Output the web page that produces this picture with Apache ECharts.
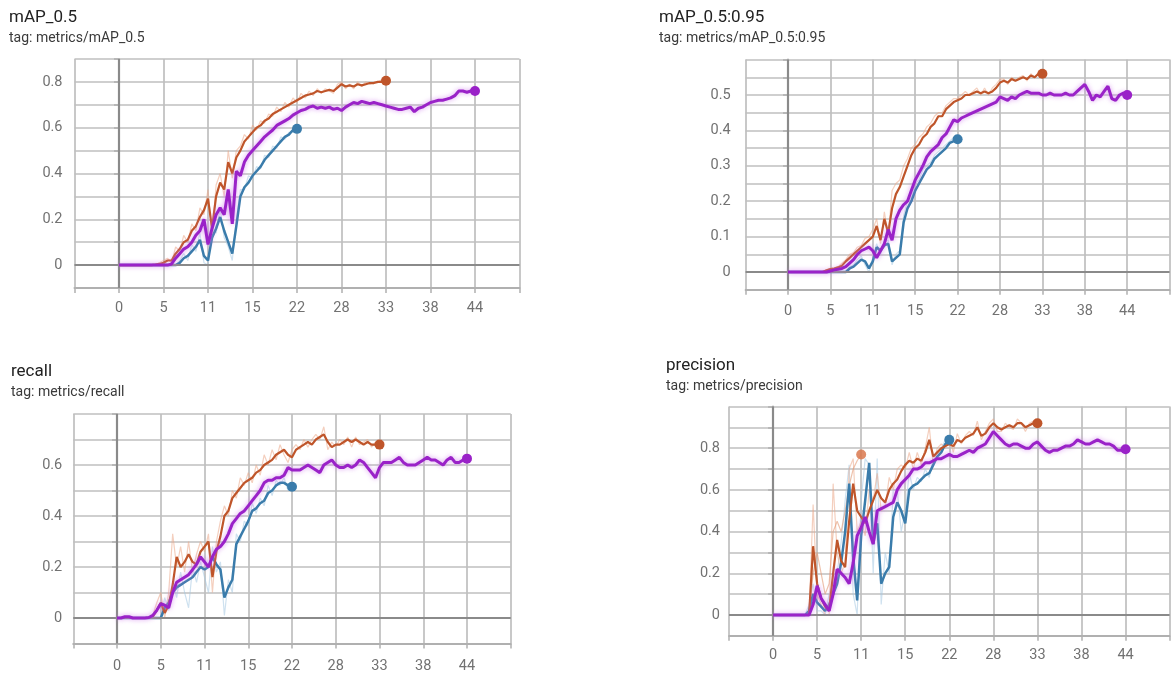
<!DOCTYPE html>
<html><head><meta charset="utf-8">
<script src="https://cdn.jsdelivr.net/npm/echarts@6/dist/echarts.min.js"></script>
<style>html,body{margin:0;padding:0;background:#fff}#c{width:1174px;height:677px}</style>
</head><body><div id="c"></div><script>
// ---------- tick labels ----------
const X_TICK_LABELS = ['0','5','11','15','22','28','33','38','44'];
const X_TICK_STEP = 5.5;      // spacing of labelled x ticks
const SAMPLE_STEP = 0.5;      // x spacing of logged samples

// ---------- panel titles ----------
const TITLES = ['mAP_0.5','mAP_0.5:0.95','recall','precision'];
const TAGS = ['tag: metrics/mAP_0.5','tag: metrics/mAP_0.5:0.95','tag: metrics/recall','tag: metrics/precision'];

// ---------- mAP_0.5 ----------
const map50_orange = [0,0,0,0,0,0,0,0,0,0.002,0.005,0.01,0.02,0.02,0.05,0.07,0.1,0.11,0.15,0.17,0.21,0.24,0.29,0.16,0.3,0.36,0.33,0.45,0.4,0.47,0.5,0.54,0.56,0.58,0.6,0.61,0.63,0.64,0.66,0.67,0.68,0.69,0.7,0.71,0.72,0.73,0.74,0.745,0.75,0.76,0.755,0.76,0.765,0.76,0.775,0.79,0.78,0.785,0.78,0.79,0.785,0.79,0.795,0.795,0.8,0.8,0.805];
const map50_purple = [0,0,0,0,0,0,0,0,0,0,0,0,0,0.005,0.03,0.05,0.07,0.08,0.1,0.13,0.15,0.2,0.09,0.16,0.22,0.25,0.22,0.33,0.18,0.41,0.39,0.45,0.48,0.5,0.52,0.54,0.56,0.575,0.59,0.61,0.62,0.63,0.64,0.655,0.665,0.675,0.68,0.69,0.695,0.685,0.69,0.685,0.69,0.68,0.685,0.675,0.69,0.7,0.71,0.705,0.715,0.71,0.705,0.71,0.705,0.7,0.695,0.69,0.685,0.68,0.68,0.685,0.69,0.67,0.685,0.69,0.7,0.71,0.715,0.72,0.72,0.725,0.73,0.74,0.76,0.76,0.755,0.76,0.76];
const map50_blue = [0,0,0,0,0,0,0,0,0,0,0,0,0,0,0,0.01,0.03,0.04,0.06,0.08,0.11,0.04,0.02,0.12,0.16,0.21,0.15,0.1,0.05,0.17,0.3,0.34,0.36,0.39,0.41,0.43,0.46,0.48,0.5,0.52,0.54,0.56,0.57,0.59,0.595];
const map50_orange_raw = [0,0,0,0,0,0,0,0,0,0,0.01,0.02,0.03,0.01,0.08,0.06,0.13,0.1,0.18,0.15,0.25,0.22,0.33,0.12,0.35,0.4,0.3,0.5,0.38,0.5,0.52,0.57,0.55,0.61,0.59,0.63,0.62,0.66,0.65,0.69,0.67,0.71,0.69,0.73,0.71,0.75,0.73,0.76,0.74,0.77,0.75,0.77,0.76,0.75,0.79,0.8,0.77,0.79,0.77,0.8,0.78,0.8,0.79,0.8,0.8,0.81,0.8];
const map50_blue_raw = [0,0,0,0,0,0,0,0,0,0,0,0,0,0,0,0.02,0.05,0.02,0.09,0.06,0.14,0.01,0,0.16,0.14,0.25,0.12,0.08,0.02,0.2,0.33,0.33,0.39,0.38,0.43,0.42,0.48,0.47,0.52,0.51,0.56,0.55,0.58,0.58,0.6];

// ---------- mAP_0.5:0.95 ----------
const map5095_orange = [0,0,0,0,0,0,0,0,0,0,0.005,0.008,0.01,0.013,0.018,0.03,0.04,0.05,0.06,0.07,0.08,0.09,0.1,0.13,0.09,0.15,0.11,0.18,0.22,0.24,0.27,0.3,0.33,0.35,0.36,0.38,0.39,0.41,0.42,0.44,0.44,0.46,0.47,0.48,0.485,0.49,0.5,0.5,0.505,0.51,0.505,0.51,0.505,0.51,0.52,0.535,0.54,0.535,0.545,0.54,0.545,0.55,0.545,0.555,0.55,0.56,0.56];
const map5095_purple = [0,0,0,0,0,0,0,0,0,0,0,0.003,0.006,0.008,0.01,0.015,0.025,0.035,0.05,0.06,0.065,0.07,0.06,0.04,0.06,0.08,0.12,0.09,0.15,0.175,0.19,0.2,0.23,0.26,0.28,0.3,0.325,0.34,0.35,0.36,0.38,0.39,0.41,0.43,0.425,0.435,0.44,0.445,0.45,0.455,0.46,0.465,0.47,0.475,0.48,0.495,0.49,0.485,0.495,0.49,0.5,0.505,0.51,0.505,0.505,0.505,0.5,0.5,0.505,0.5,0.5,0.5,0.505,0.5,0.5,0.51,0.52,0.53,0.51,0.485,0.5,0.495,0.51,0.525,0.49,0.485,0.5,0.505,0.5];
const map5095_blue = [0,0,0,0,0,0,0,0,0,0,0,0,0,0,0,0,0.01,0.015,0.025,0.035,0.03,0.01,0.03,0.07,0.06,0.075,0.08,0.03,0.04,0.05,0.14,0.18,0.2,0.23,0.25,0.27,0.29,0.3,0.32,0.33,0.34,0.35,0.365,0.37,0.375];
const map5095_orange_raw = [0,0,0,0,0,0,0,0,0,0,0.006,0.01,0.012,0.015,0.025,0.035,0.05,0.055,0.07,0.075,0.095,0.1,0.12,0.15,0.08,0.17,0.1,0.23,0.25,0.26,0.3,0.32,0.35,0.36,0.38,0.39,0.41,0.42,0.44,0.45,0.45,0.47,0.48,0.49,0.49,0.5,0.51,0.5,0.51,0.52,0.5,0.52,0.5,0.52,0.53,0.545,0.545,0.53,0.55,0.54,0.55,0.555,0.54,0.56,0.55,0.565,0.56];
const map5095_blue_raw = [0,0,0,0,0,0,0,0,0,0,0,0,0,0,0,0,0.015,0.02,0.035,0.045,0.02,0,0.04,0.08,0.05,0.085,0.09,0.02,0.05,0.06,0.16,0.2,0.21,0.25,0.26,0.29,0.3,0.31,0.33,0.34,0.35,0.36,0.37,0.38,0.38];

// ---------- recall ----------
const recall_orange = [0,0,0,0,0,0,0,0,0,0.005,0.03,0.06,0.02,0.05,0.13,0.24,0.2,0.22,0.25,0.22,0.21,0.26,0.28,0.3,0.16,0.26,0.32,0.4,0.42,0.47,0.49,0.51,0.53,0.54,0.55,0.57,0.58,0.6,0.61,0.62,0.64,0.65,0.66,0.64,0.63,0.66,0.67,0.68,0.69,0.68,0.7,0.71,0.72,0.69,0.67,0.68,0.68,0.69,0.7,0.69,0.7,0.69,0.68,0.69,0.68,0.68,0.68];
const recall_purple = [0,0,0.005,0.005,0,0,0,0,0.002,0.01,0.03,0.056,0.05,0.04,0.1,0.14,0.15,0.16,0.17,0.19,0.21,0.24,0.22,0.2,0.24,0.27,0.28,0.3,0.33,0.37,0.39,0.41,0.42,0.44,0.46,0.48,0.5,0.53,0.54,0.54,0.55,0.55,0.56,0.59,0.58,0.58,0.58,0.59,0.6,0.59,0.58,0.57,0.6,0.61,0.62,0.6,0.59,0.59,0.6,0.59,0.6,0.62,0.61,0.59,0.57,0.55,0.59,0.61,0.61,0.61,0.62,0.63,0.61,0.6,0.6,0.6,0.61,0.62,0.63,0.62,0.62,0.61,0.6,0.62,0.63,0.61,0.61,0.62,0.625];
const recall_blue = [0,0,0,0,0,0,0,0,0,0,0,0,0.04,0.06,0.1,0.12,0.13,0.14,0.15,0.16,0.18,0.2,0.19,0.2,0.24,0.21,0.19,0.08,0.12,0.15,0.29,0.32,0.35,0.38,0.42,0.43,0.45,0.46,0.49,0.5,0.52,0.53,0.53,0.52,0.515];
const recall_orange_raw = [0,0,0,0,0,0,0,0,0,0.01,0.06,0.1,0,0.1,0.33,0.2,0.28,0.18,0.3,0.18,0.25,0.3,0.26,0.33,0.1,0.3,0.38,0.44,0.4,0.5,0.47,0.55,0.52,0.57,0.53,0.6,0.56,0.64,0.6,0.66,0.62,0.68,0.64,0.61,0.66,0.68,0.66,0.7,0.67,0.7,0.72,0.7,0.75,0.66,0.69,0.67,0.7,0.68,0.71,0.67,0.71,0.68,0.69,0.7,0.67,0.69,0.68];
const recall_blue_raw = [0,0,0,0,0,0,0,0,0,0,0,0,0.08,0.03,0.14,0.08,0.18,0.1,0.04,0.2,0.14,0.22,0.16,0.1,0.28,0.18,0.22,0.01,0.15,0.1,0.33,0.3,0.38,0.36,0.45,0.41,0.47,0.44,0.52,0.48,0.54,0.52,0.55,0.5,0.52];

// ---------- precision ----------
const prec_orange = [0,0,0,0,0,0,0,0,0,0,0.33,0.15,0.08,0.04,0.02,0.2,0.36,0.26,0.23,0.45,0.63,0.5,0.47,0.44,0.5,0.55,0.6,0.56,0.54,0.6,0.63,0.65,0.69,0.72,0.74,0.73,0.75,0.74,0.78,0.84,0.76,0.78,0.8,0.81,0.82,0.81,0.84,0.83,0.85,0.86,0.87,0.9,0.86,0.87,0.9,0.92,0.9,0.89,0.9,0.91,0.9,0.92,0.92,0.9,0.91,0.92,0.92];
const prec_purple = [0,0,0,0,0,0,0,0,0,0,0.05,0.14,0.08,0.05,0.02,0.1,0.22,0.2,0.18,0.15,0.25,0.38,0.42,0.47,0.4,0.34,0.5,0.51,0.52,0.53,0.54,0.6,0.63,0.65,0.67,0.7,0.7,0.71,0.73,0.73,0.74,0.75,0.75,0.76,0.77,0.76,0.76,0.77,0.78,0.79,0.78,0.8,0.81,0.82,0.85,0.88,0.86,0.84,0.82,0.81,0.82,0.82,0.81,0.8,0.8,0.82,0.83,0.81,0.79,0.78,0.79,0.79,0.8,0.81,0.81,0.82,0.84,0.83,0.82,0.82,0.83,0.84,0.83,0.82,0.82,0.81,0.79,0.79,0.795];
const prec_blue = [0,0,0,0,0,0,0,0,0,0.02,0.1,0.06,0.04,0.02,0.05,0.1,0.15,0.25,0.4,0.63,0.28,0.07,0.38,0.55,0.73,0.34,0.44,0.15,0.2,0.23,0.47,0.54,0.5,0.44,0.6,0.62,0.63,0.65,0.67,0.68,0.72,0.76,0.78,0.82,0.84];
const prec_orange_raw = [0,0,0,0,0,0,0,0,0,0,0.53,0.1,0.05,0,0,0.63,0.3,0.2,0.25,0.7,0.75,0.4,0.45,0.38,0.6,0.55,0.68,0.5,0.52,0.66,0.6,0.7,0.72,0.7,0.78,0.7,0.78,0.72,0.8,0.9,0.72,0.8,0.82,0.8,0.85,0.78,0.87,0.82,0.86,0.88,0.86,0.93,0.84,0.88,0.92,0.94,0.88,0.88,0.92,0.9,0.89,0.94,0.92,0.88,0.92,0.93,0.92];
const prec_blue_raw = [0,0,0,0,0,0,0,0,0,0.05,0.15,0.02,0.02,0,0.1,0.15,0.2,0.35,0.55,0.72,0.1,0,0.55,0.75,0.72,0.2,0.75,0.05,0.3,0.2,0.6,0.6,0.4,0.5,0.68,0.6,0.66,0.64,0.7,0.66,0.76,0.78,0.8,0.84,0.85];
const prec_short_run = [0,0,0,0,0,0,0,0,0,0,0.2,0.3,0.2,0.1,0.15,0.4,0.45,0.4,0.5,0.62,0.7,0.74,0.77];

// ---------- styling ----------
const C_ORANGE = '#bf552a', C_BLUE = '#3a7cab', C_PURPLE = '#9a22c8';
const C_ORANGE_RAW = '#eba888', C_BLUE_RAW = '#a6c8e2', C_SHORT = '#e39a75', C_SHORT_DOT = '#d9784d';
const FONT = 'Roboto, "Noto Sans", sans-serif';
const GRID_COLOR = '#bfbfbf', AXIS_COLOR = '#b0b0b0', ZERO_COLOR = '#8a8a8a';

const PANELS = [
  {grid:{left:74.5, right:654.5, top:59, bottom:389}, yMin:-0.1, yMax:0.9, yInt:0.1, labStep:0.2, labMax:0.8, xMargin:13, yMargin:12,
   title:{left:9, top:9}, series:[['blueraw',map50_blue_raw],['orangeraw',map50_orange_raw],['blue',map50_blue],['orange',map50_orange],['purple',map50_purple]]},
  {grid:{left:745.6, right:4.4, top:59.6, bottom:387.3}, yMin:-0.05, yMax:0.6, yInt:0.05, labStep:0.1, labMax:0.5, xMargin:14, yMargin:15,
   title:{left:659, top:9}, series:[['blueraw',map5095_blue_raw],['orangeraw',map5095_orange_raw],['blue',map5095_blue],['orange',map5095_orange],['purple',map5095_purple]]},
  {grid:{left:73.25, right:663.25, top:414, bottom:33.5}, yMin:-0.1, yMax:0.8, yInt:0.1, labStep:0.2, labMax:0.6, xMargin:15, yMargin:11,
   title:{left:11, top:363}, series:[['blueraw',recall_blue_raw],['orangeraw',recall_orange_raw],['blue',recall_blue],['orange',recall_orange],['purple',recall_purple]]},
  {grid:{left:729, right:4.4, top:406.5, bottom:41.15}, yMin:-0.1, yMax:1.0, yInt:0.1, labStep:0.2, labMax:0.8, xMargin:12, yMargin:9,
   title:{left:666, top:357}, series:[['blueraw',prec_blue_raw],['orangeraw',prec_orange_raw],['short',prec_short_run],['blue',prec_blue],['orange',prec_orange],['purple',prec_purple]]}
];

const STYLE = {
  orange:{color:C_ORANGE, width:2.2, z:4, dot:true},
  blue:{color:C_BLUE, width:2.5, z:3, dot:true},
  purple:{color:C_PURPLE, width:3, z:5, dot:true, glow:true},
  orangeraw:{color:C_ORANGE_RAW, width:1.2, z:2, dot:false, opacity:0.55},
  blueraw:{color:C_BLUE_RAW, width:1.2, z:2, dot:false, opacity:0.55},
  short:{color:C_SHORT, width:1.2, z:2, dot:true, dotColor:C_SHORT_DOT, opacity:0.6}
};

const grids = [], xAxes = [], yAxes = [], series = [], titles = [];
PANELS.forEach((p, gi) => {
  grids.push(Object.assign({containLabel:false}, p.grid));
  xAxes.push({
    type:'value', gridIndex:gi, min:-X_TICK_STEP, max:9*X_TICK_STEP, interval:X_TICK_STEP,
    axisLine:{show:true, onZero:false, lineStyle:{color:AXIS_COLOR, width:2}},
    axisTick:{show:true, length:5, lineStyle:{color:AXIS_COLOR, width:1.5}},
    splitLine:{show:true, lineStyle:{color:GRID_COLOR, width:1.7}},
    axisLabel:{margin:p.xMargin, color:'#727272', fontSize:14.5, fontFamily:FONT,
      showMinLabel:true, showMaxLabel:true,
      formatter:v => { const i = Math.round(v / X_TICK_STEP); return (i >= 0 && i < X_TICK_LABELS.length) ? X_TICK_LABELS[i] : ''; }}
  });
  yAxes.push({
    type:'value', gridIndex:gi, min:p.yMin, max:p.yMax, interval:p.yInt,
    axisLine:{show:true, lineStyle:{color:AXIS_COLOR, width:2}},
    axisTick:{show:true, length:5, lineStyle:{color:AXIS_COLOR, width:1.5}},
    splitLine:{show:true, lineStyle:{color:GRID_COLOR, width:1.7}},
    axisLabel:{margin:p.yMargin, color:'#727272', fontSize:14.5, fontFamily:FONT,
      formatter:v => {
        const r = Math.round(v * 100) / 100;
        const k = r / p.labStep;
        if (r < -1e-9 || r > p.labMax + 1e-9 || Math.abs(k - Math.round(k)) > 1e-6) return '';
        return String(r);
      }}
  });
  titles.push({left:p.title.left, top:p.title.top, text:TITLES[gi], subtext:TAGS[gi], itemGap:5, padding:0,
    textStyle:{fontFamily:FONT, fontSize:17, fontWeight:'normal', color:'#222222'},
    subtextStyle:{fontFamily:FONT, fontSize:14, color:'#3a3a3a'}});

  // zero reference lines
  series.push({type:'line', xAxisIndex:gi, yAxisIndex:gi, data:[], silent:true, z:1,
    markLine:{silent:true, symbol:'none', animation:false, label:{show:false},
      lineStyle:{color:ZERO_COLOR, width:2.2, type:'solid'},
      data:[{yAxis:0},{xAxis:0}]}});

  p.series.forEach(([kind, vals]) => {
    const s = STYLE[kind];
    const pts = vals.map((v, i) => [i * SAMPLE_STEP, v]);
    const ls = {color:s.color, width:s.width, opacity:s.opacity == null ? 1 : s.opacity};
    if (s.glow) { ls.shadowColor = 'rgba(205,120,235,0.75)'; ls.shadowBlur = 5; }
    series.push({type:'line', xAxisIndex:gi, yAxisIndex:gi, data:pts, showSymbol:false, symbol:'none',
      lineStyle:ls, z:s.z, silent:true, animation:false});
    if (s.dot) {
      series.push({type:'scatter', xAxisIndex:gi, yAxisIndex:gi, data:[pts[pts.length - 1]],
        symbol:'circle', symbolSize:10, itemStyle:{color:s.dotColor || s.color, opacity:s.dotColor ? 0.85 : 1},
        z:s.z + 1, silent:true, animation:false});
    }
  });
});

const chart = echarts.init(document.getElementById('c'), null, {renderer:'canvas'});
chart.setOption({backgroundColor:'#ffffff', animation:false, title:titles, grid:grids, xAxis:xAxes, yAxis:yAxes, series:series});
</script></body></html>
